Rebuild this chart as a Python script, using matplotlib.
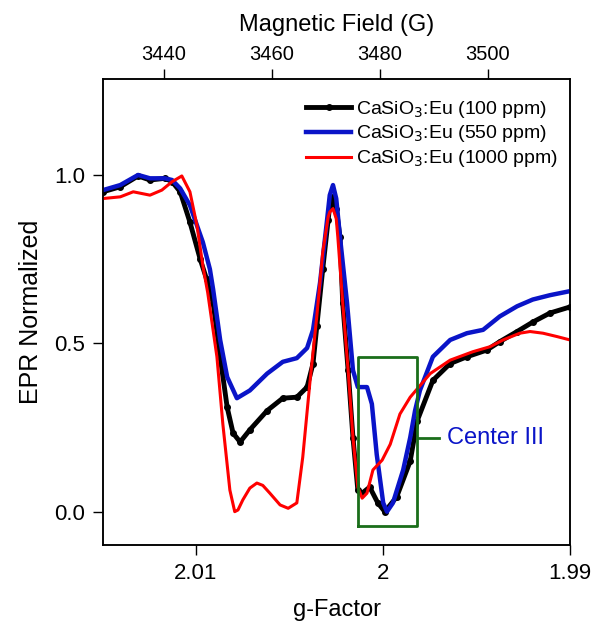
import matplotlib
matplotlib.use('Agg')
import matplotlib.pyplot as plt

plt.rcParams['font.family'] = ['Liberation Sans', 'DejaVu Sans']

# magnetic field (G) and normalized EPR signal
field_100 = [3428.7, 3431.9, 3435.2, 3437.4, 3440.2, 3441.5, 3443.0, 3444.8, 3446.7, 3447.9,
             3449.1, 3450.4, 3451.7, 3452.8, 3454.1, 3455.9, 3459.1, 3462.0, 3464.6, 3466.5,
             3467.6, 3468.3, 3469.4, 3470.4, 3470.7, 3471.3, 3471.9, 3472.6, 3473.1, 3474.1,
             3475.0, 3475.9, 3476.7, 3478.1, 3479.6, 3480.9, 3483.1, 3485.6, 3486.9, 3489.8,
             3493.0, 3496.1, 3499.8, 3502.2, 3505.4, 3508.3, 3511.5, 3515.2]
epr_100 = [0.95, 0.965, 0.997, 0.985, 0.99, 0.98, 0.95, 0.86, 0.75, 0.69,
           0.62, 0.46, 0.31, 0.233, 0.207, 0.243, 0.30, 0.337, 0.34, 0.37,
           0.44, 0.55, 0.72, 0.866, 0.91, 0.935, 0.90, 0.815, 0.62, 0.42,
           0.22, 0.064, 0.055, 0.073, 0.026, 0.0, 0.044, 0.15, 0.27, 0.39,
           0.44, 0.46, 0.48, 0.505, 0.535, 0.563, 0.59, 0.608]

field_550 = [3428.7, 3431.9, 3435.2, 3437.4, 3440.2, 3441.5, 3443.0, 3444.8, 3447.2, 3448.5,
             3449.1, 3450.4, 3451.7, 3453.5, 3455.9, 3459.1, 3462.0, 3464.6, 3466.5, 3467.6,
             3468.9, 3470.2, 3470.7, 3471.3, 3471.9, 3472.6, 3473.9, 3475.0, 3475.9, 3477.6,
             3478.5, 3479.4, 3480.6, 3481.3, 3482.4, 3484.3, 3485.6, 3486.5, 3487.4, 3489.8,
             3493.0, 3496.1, 3499.1, 3502.2, 3505.4, 3508.3, 3511.5, 3515.2]
epr_550 = [0.955, 0.97, 1.0, 0.99, 0.99, 0.985, 0.96, 0.91, 0.80, 0.72,
           0.66, 0.51, 0.40, 0.337, 0.36, 0.41, 0.445, 0.456, 0.486, 0.54,
           0.68, 0.866, 0.94, 0.97, 0.93, 0.815, 0.62, 0.42, 0.37, 0.37,
           0.32, 0.17, 0.026, 0.0, 0.026, 0.124, 0.22, 0.30, 0.36, 0.46,
           0.51, 0.53, 0.54, 0.58, 0.61, 0.63, 0.643, 0.655]

field_1000 = [3428.7, 3431.9, 3434.3, 3437.4, 3439.6, 3441.5, 3443.3, 3444.8, 3446.1, 3447.2,
              3448.1, 3449.8, 3450.9, 3452.2, 3453.1, 3453.7, 3454.6, 3455.9, 3457.2, 3458.3,
              3459.6, 3461.5, 3463.0, 3464.6, 3465.7, 3467.0, 3468.3, 3469.4, 3470.4, 3470.7,
              3471.3, 3471.9, 3472.2, 3473.1, 3474.1, 3475.0, 3475.9, 3476.7, 3477.6, 3478.7,
              3480.4, 3481.9, 3483.7, 3485.6, 3489.3, 3493.0, 3497.2, 3500.4, 3502.8, 3505.9,
              3507.8, 3510.2, 3512.8, 3515.2]
epr_1000 = [0.93, 0.935, 0.95, 0.94, 0.955, 0.98, 0.997, 0.95, 0.85, 0.73,
            0.65, 0.46, 0.26, 0.064, 0.0, 0.005, 0.035, 0.07, 0.085, 0.078,
            0.055, 0.02, 0.01, 0.026, 0.162, 0.38, 0.58, 0.77, 0.875, 0.89,
            0.9, 0.87, 0.815, 0.62, 0.42, 0.22, 0.073, 0.04, 0.055, 0.124,
            0.153, 0.2, 0.29, 0.34, 0.41, 0.45, 0.475, 0.49, 0.51, 0.53,
            0.535, 0.53, 0.52, 0.51]

labels = ['CaSiO$_3$:Eu (100 ppm)', 'CaSiO$_3$:Eu (550 ppm)', 'CaSiO$_3$:Eu (1000 ppm)']

g_ticks = [2.01, 2.00, 1.99]
g_ticklabels = ['2.01', '2', '1.99']
field_ticks = [3440, 3460, 3480, 3500]

# Center III box (field, EPR)
box_field = (3475.9, 3486.9)
box_epr = (-0.042, 0.459)

fig = plt.figure(figsize=(5.95, 6.23), dpi=100)
ax = fig.add_axes([0.1731, 0.1252, 0.7849, 0.748])
ax.set_xlim(2.01497, 1.99)
ax.set_ylim(-0.099, 1.285)
ax.set_xticks(g_ticks)
ax.set_xticklabels(g_ticklabels)
ax.set_yticks([0.0, 0.5, 1.0])
ax.set_yticklabels(['0.0', '0.5', '1.0'])
ax.tick_params(axis='both', direction='out', length=7, width=1, labelsize=16, pad=6)
ax.set_xlabel('g-Factor', fontsize=17, labelpad=11)
ax.set_ylabel('EPR Normalized', fontsize=18, labelpad=8)

ax2 = ax.twiny()
ax2.set_xlim(3428.7, 3515.2)
ax2.set_xticks(field_ticks)
ax2.tick_params(axis='x', direction='out', length=7, width=1, labelsize=14.5, pad=4)
ax2.set_xlabel('Magnetic Field (G)', fontsize=17, labelpad=10)

for a in (ax, ax2):
    for s in a.spines.values():
        s.set_linewidth(1.1)

ax2.plot(field_100, epr_100, color='black', lw=3.5, marker='o', ms=4, label=labels[0])
ax2.plot(field_550, epr_550, color='#0a14c8', lw=3.2, label=labels[1])
ax2.plot(field_1000, epr_1000, color='#ff0000', lw=2.2, label=labels[2])

# Center III marker
ax2.plot([box_field[0], box_field[1], box_field[1], box_field[0], box_field[0]],
         [box_epr[0], box_epr[0], box_epr[1], box_epr[1], box_epr[0]],
         color='#1a6e1a', lw=2)
ax2.plot([box_field[1], 3490.9], [0.219, 0.219], color='#1a6e1a', lw=2)
ax2.text(3492.4, 0.219, 'Center III', color='#0a14c8', fontsize=17, va='center', ha='left')

ax2.legend(loc='upper left', bbox_to_anchor=(0.435, 0.958), frameon=False, fontsize=14,
           handlelength=2.3, handletextpad=0.25, labelspacing=0.2, borderpad=0, borderaxespad=0)

fig.savefig('out.png', dpi=100)
